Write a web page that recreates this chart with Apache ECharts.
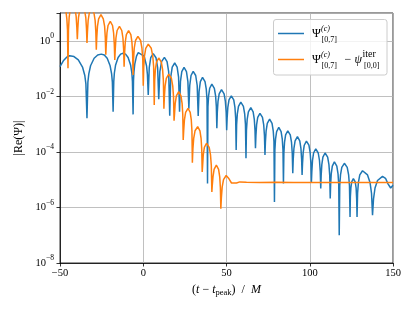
<!DOCTYPE html>
<html><head><meta charset="utf-8">
<script src="https://cdn.jsdelivr.net/npm/echarts@6/dist/echarts.min.js"></script>
<style>html,body{margin:0;padding:0;background:#fff}#c{width:415px;height:311px}</style>
</head><body><div id="c"></div><script>
// x axis ticks and y axis decade exponents
const xTicks = [-50, 0, 50, 100, 150];
const yTickExponents = [-8, -6, -4, -2, 0];

// Blue: Psi^{(c)}_{[0,7]}  (t - t_peak, log10 |Re Psi|)
const blueT = [-50,-48,-46,-44.2,-41.6,-39.0,-36.4,-35.1,-34.45,-33.8,-33.25,-32.7,-31.65,-29.5,-27.35,-25.2,-23.4,-21.65,-19.9,-19.0,-18.55,-18.1,-17.7,-17.35,-16.6,-15.1,-13.6,-12.1,-10.6,-9.1,-7.6,-6.85,-6.5,-6.1,-5.85,-5.6,-5.1,-4.05,-3.0,-2.0,0.5,2.0,2.5,3.0,3.6,4.5,6.0,7.65,8.64,9.3,9.98,11.0,12.7,14.3,15.26,15.9,16.5,17.4,18.9,20.35,21.22,21.8,22.34,23.15,24.5,25.95,26.82,27.4,27.92,28.7,30.0,31.5,32.4,33.0,33.52,34.3,35.6,37.1,37.85,38.3,38.6,38.86,39.25,39.9,41.2,42.7,43.45,43.9,44.2,44.48,44.9,45.6,47.0,48.55,49.32,49.8,50.1,50.38,50.8,51.5,52.9,54.35,55.07,55.51,55.8,56.08,56.5,57.2,58.6,60.15,60.92,61.39,61.7,61.99,62.42,63.15,64.6,66.0,66.7,67.12,67.4,67.67,68.07,68.75,70.1,71.6,72.35,72.8,73.1,73.38,73.8,74.5,75.9,77.35,78.07,78.51,78.8,79.06,79.45,80.1,81.4,82.8,83.5,83.92,84.2,84.46,84.85,85.5,86.8,88.3,89.05,89.5,89.8,90.08,90.5,91.2,92.6,94.0,94.7,95.12,95.4,95.66,96.05,96.7,98.0,99.5,100.25,100.7,101.0,101.26,101.65,102.3,103.6,105.1,105.85,106.3,106.6,106.86,107.25,107.9,109.2,110.75,111.52,112.0,112.3,112.55,112.92,113.55,114.8,116.25,116.97,117.41,117.7,118.01,118.47,119.25,120.8,122.5,123.35,123.86,124.2,124.4,124.7,125.2,126.2,127.3,127.85,128.18,128.4,128.73,129.23,130.05,131.7,134.7,136.2,137.1,137.7,138.3,139.2,140.7,143.7,145.5,147.0,148.6,150];
const blueLog10 = [-0.93,-0.72,-0.59,-0.54,-0.57,-0.69,-0.96,-1.25,-1.55,-2.79,-1.49,-1.19,-0.90,-0.63,-0.51,-0.48,-0.51,-0.63,-0.90,-1.19,-1.49,-2.55,-1.46,-1.16,-0.87,-0.60,-0.48,-0.45,-0.48,-0.60,-0.87,-1.16,-1.46,-2.65,-1.43,-1.13,-0.84,-0.55,-0.43,-0.40,-0.55,-0.91,-1.21,-1.95,-0.97,-0.61,-0.46,-0.61,-0.97,-2.10,-1.11,-0.75,-0.60,-0.75,-1.11,-2.70,-1.31,-0.95,-0.80,-0.95,-1.31,-2.55,-1.47,-1.11,-0.96,-1.11,-1.47,-2.45,-1.61,-1.25,-1.10,-1.25,-1.61,-2.71,-1.83,-1.47,-1.32,-1.47,-1.74,-2.13,-5.14,-2.37,-1.98,-1.71,-1.56,-1.71,-1.98,-2.37,-3.15,-2.57,-2.18,-1.91,-1.76,-1.91,-2.18,-2.57,-3.22,-2.79,-2.40,-2.13,-1.98,-2.13,-2.40,-2.79,-3.93,-3.02,-2.63,-2.36,-2.21,-2.36,-2.63,-3.02,-4.23,-3.22,-2.83,-2.56,-2.41,-2.56,-2.83,-3.22,-3.87,-3.42,-3.03,-2.76,-2.61,-2.76,-3.03,-3.42,-4.11,-3.63,-3.24,-2.97,-2.82,-2.97,-3.24,-3.63,-5.80,-3.93,-3.54,-3.27,-3.12,-3.27,-3.54,-3.93,-5.14,-4.05,-3.66,-3.39,-3.24,-3.39,-3.66,-4.05,-4.77,-4.26,-3.87,-3.60,-3.45,-3.60,-3.87,-4.26,-4.83,-4.42,-4.03,-3.76,-3.61,-3.76,-4.03,-4.42,-5.08,-4.70,-4.31,-4.04,-3.89,-4.04,-4.31,-4.70,-5.32,-4.85,-4.46,-4.19,-4.04,-4.19,-4.46,-4.85,-5.68,-5.17,-4.78,-4.51,-4.36,-4.51,-4.78,-5.17,-7.00,-5.22,-4.83,-4.56,-4.41,-4.56,-4.83,-5.22,-6.34,-5.60,-5.30,-5.08,-4.96,-5.08,-5.30,-5.70,-6.34,-5.49,-5.10,-4.83,-4.68,-4.83,-5.10,-5.49,-6.28,-5.69,-5.30,-5.03,-4.88,-4.95,-5.15,-5.30,-5.20];

// Orange: Psi^{(c)}_{[0,7]} - psi^{iter}_{[0,0]}
const orangeT = [-50,-48.0,-46.6,-45.9,-45.5,-45.2,-44.9,-44.5,-43.8,-42.4,-41.0,-40.3,-39.9,-39.6,-39.3,-38.9,-38.15,-36.7,-35.25,-34.5,-34.1,-33.8,-33.5,-33.1,-32.4,-31.0,-29.6,-28.9,-28.5,-28.2,-27.9,-27.5,-26.8,-25.4,-24.0,-23.2,-22.8,-22.5,-22.2,-21.8,-21.15,-19.8,-18.45,-17.8,-17.4,-17.1,-16.8,-16.4,-15.7,-14.3,-12.9,-12.2,-11.8,-11.5,-11.2,-10.8,-10.15,-8.8,-7.45,-6.8,-6.4,-6.1,-5.8,-5.4,-4.65,-3.2,-1.6,-0.8,-0.3,0.0,0.3,0.75,1.5,3.0,4.8,5.7,6.24,6.6,6.87,7.28,7.95,9.3,10.85,11.62,12.09,12.4,12.69,13.13,13.85,15.3,16.9,17.7,18.18,18.5,18.78,19.2,19.9,21.3,22.65,23.33,23.73,24.0,24.29,24.73,25.45,26.9,28.2,28.85,29.24,29.5,29.82,30.3,31.1,32.7,34.05,34.73,35.13,35.4,35.66,36.05,36.7,38.0,39.6,40.4,40.88,41.2,41.47,41.88,42.55,43.9,45.25,45.93,46.33,46.6,46.92,47.4,48.2,49.8,51.5,53.0,54.2,56.0,58.0,62,70,80,90,100,110,120,130,140,150];
const orangeLog10 = [1.5,1.3,1.15,0.8,0.4,-0.99,0.4,0.85,1.15,1.3,1.15,0.88,0.49,0.06,0.44,0.83,1.1,1.25,1.1,0.83,0.44,-0.08,0.34,0.73,1.0,1.15,1.0,0.73,0.34,-0.32,0.13,0.52,0.79,0.94,0.79,0.52,0.13,-0.5,-0.11,0.28,0.55,0.70,0.55,0.28,-0.11,-0.69,-0.29,0.10,0.37,0.52,0.37,0.10,-0.29,-0.93,-0.44,-0.05,0.22,0.37,0.22,-0.05,-0.44,-1.23,-0.65,-0.26,0.01,0.16,0.01,-0.26,-0.65,-1.62,-0.93,-0.54,-0.27,-0.12,-0.27,-0.54,-0.93,-2.31,-1.43,-1.04,-0.77,-0.62,-0.77,-1.04,-1.43,-2.45,-2.01,-1.62,-1.35,-1.2,-1.35,-1.62,-2.01,-2.88,-2.64,-2.25,-1.98,-1.83,-1.98,-2.25,-2.64,-3.57,-3.24,-2.85,-2.58,-2.43,-2.58,-2.85,-3.24,-4.39,-3.9,-3.51,-3.24,-3.09,-3.24,-3.51,-3.9,-4.72,-4.5,-4.11,-3.84,-3.69,-3.84,-4.11,-4.5,-5.44,-5.2,-4.9,-4.63,-4.48,-4.63,-4.9,-5.29,-6.05,-5.66,-5.27,-5.0,-4.85,-4.97,-5.12,-5.17,-5.12,-5.08,-5.09,-5.10,-5.09,-5.10,-5.10,-5.10,-5.10,-5.10,-5.10,-5.10];

const blueName = 'Ψ^(c)_[0,7]';
const orangeName = 'Ψ^(c)_[0,7] − ψ^iter_[0,0]';

const toPairs = (ts, ls) => ts.map((t, i) => [t, Math.pow(10, ls[i])]);
const serif = '"Liberation Serif", "DejaVu Serif", serif';
const minus = v => (v < 0 ? '−' : '') + Math.abs(v);

const chart = echarts.init(document.getElementById('c'), null, {renderer: 'canvas'});
chart.setOption({
  animation: false,
  backgroundColor: '#ffffff',
  grid: {left: 60, right: 22, top: 13, bottom: 48, show: true, borderColor: '#000', borderWidth: 0.8, backgroundColor: 'transparent'},
  xAxis: {
    type: 'value', min: xTicks[0], max: xTicks[xTicks.length - 1], interval: 50,
    axisLine: {show: true, onZero: false, lineStyle: {color: '#000', width: 0.8}},
    axisTick: {show: true, inside: false, length: 3.5, lineStyle: {color: '#000', width: 0.8}},
    axisLabel: {margin: 5, color: '#000', fontFamily: serif, fontSize: 10.5, formatter: v => minus(v)},
    splitLine: {show: true, lineStyle: {color: '#b0b0b0', width: 0.8}},
    name: '{p|(}{i|t}{p| − }{i|t}{s|peak}{p|)  /  }{i|M}',
    nameLocation: 'middle', nameGap: 19,
    nameTextStyle: {color: '#000', fontFamily: serif, fontSize: 12,
      rich: {p: {fontFamily: serif, fontSize: 12, color: '#000'},
             i: {fontFamily: serif, fontSize: 12, fontStyle: 'italic', color: '#000'},
             s: {fontFamily: serif, fontSize: 8.5, color: '#000', padding: [6, 0, 0, 0]}}}
  },
  yAxis: {
    type: 'log', logBase: 10, min: Math.pow(10, yTickExponents[0]), max: 10, interval: 2,
    axisLine: {show: true, onZero: false, lineStyle: {color: '#000', width: 0.8}},
    axisTick: {show: true, inside: false, length: 3.5, lineStyle: {color: '#000', width: 0.8}},
    minorTick: {show: false},
    axisLabel: {margin: 6, color: '#000', fontFamily: serif,
      formatter: v => {
        const e = Math.round(Math.log10(v));
        if (yTickExponents.indexOf(e) < 0) return '';
        return '{b|10}{s|' + minus(e) + '}';
      },
      rich: {b: {fontFamily: serif, fontSize: 10.5, color: '#000'},
             s: {fontFamily: serif, fontSize: 7.5, color: '#000', padding: [0, 0, 9, 0]}}},
    splitLine: {show: true, lineStyle: {color: '#b0b0b0', width: 0.8}},
    name: '|Re(Ψ)|', nameLocation: 'middle', nameGap: 34,
    nameTextStyle: {color: '#000', fontFamily: serif, fontSize: 12}
  },
  series: [
    {name: blueName, type: 'line', data: toPairs(blueT, blueLog10), showSymbol: false, symbol: 'none',
     lineStyle: {color: '#1f77b4', width: 1.5}, itemStyle: {color: '#1f77b4'}, clip: true, z: 2},
    {name: orangeName, type: 'line', data: toPairs(orangeT, orangeLog10), showSymbol: false, symbol: 'none',
     lineStyle: {color: '#ff7f0e', width: 1.5}, itemStyle: {color: '#ff7f0e'}, clip: true, z: 3}
  ],
  graphic: [
    {type: 'rect', z: 100, shape: {x: 273.5, y: 19.5, width: 113.5, height: 55.5, r: 2.5},
     style: {fill: 'rgba(255,255,255,0.8)', stroke: '#cccccc', lineWidth: 1}},
    {type: 'line', z: 101, shape: {x1: 278, y1: 33.5, x2: 304, y2: 33.5}, style: {stroke: '#1f77b4', lineWidth: 1.5}},
    {type: 'text', z: 101, x: 312, y: 33.5, style: {text: 'Ψ', font: '12px ' + serif, fill: '#000', verticalAlign: 'middle'}},
    {type: 'text', z: 101, x: 321, y: 28.5, style: {text: '(c)', font: 'italic 8px ' + serif, fill: '#000', verticalAlign: 'middle'}},
    {type: 'text', z: 101, x: 321.5, y: 40, style: {text: '[0,7]', font: '8px ' + serif, fill: '#000', verticalAlign: 'middle'}},
    {type: 'line', z: 101, shape: {x1: 278, y1: 59.5, x2: 304, y2: 59.5}, style: {stroke: '#ff7f0e', lineWidth: 1.5}},
    {type: 'text', z: 101, x: 312, y: 59.5, style: {text: 'Ψ', font: '12px ' + serif, fill: '#000', verticalAlign: 'middle'}},
    {type: 'text', z: 101, x: 321, y: 54.5, style: {text: '(c)', font: 'italic 8px ' + serif, fill: '#000', verticalAlign: 'middle'}},
    {type: 'text', z: 101, x: 321.5, y: 66, style: {text: '[0,7]', font: '8px ' + serif, fill: '#000', verticalAlign: 'middle'}},
    {type: 'text', z: 101, x: 344.5, y: 59.5, style: {text: '−', font: '12px ' + serif, fill: '#000', verticalAlign: 'middle'}},
    {type: 'text', z: 101, x: 354.5, y: 59.5, style: {text: 'ψ', font: 'italic 12px ' + serif, fill: '#000', verticalAlign: 'middle'}},
    {type: 'text', z: 101, x: 362.5, y: 54, style: {text: 'iter', font: '10px ' + serif, fill: '#000', verticalAlign: 'middle'}},
    {type: 'text', z: 101, x: 364, y: 66, style: {text: '[0,0]', font: '8px ' + serif, fill: '#000', verticalAlign: 'middle'}}
  ]
});
</script></body></html>
